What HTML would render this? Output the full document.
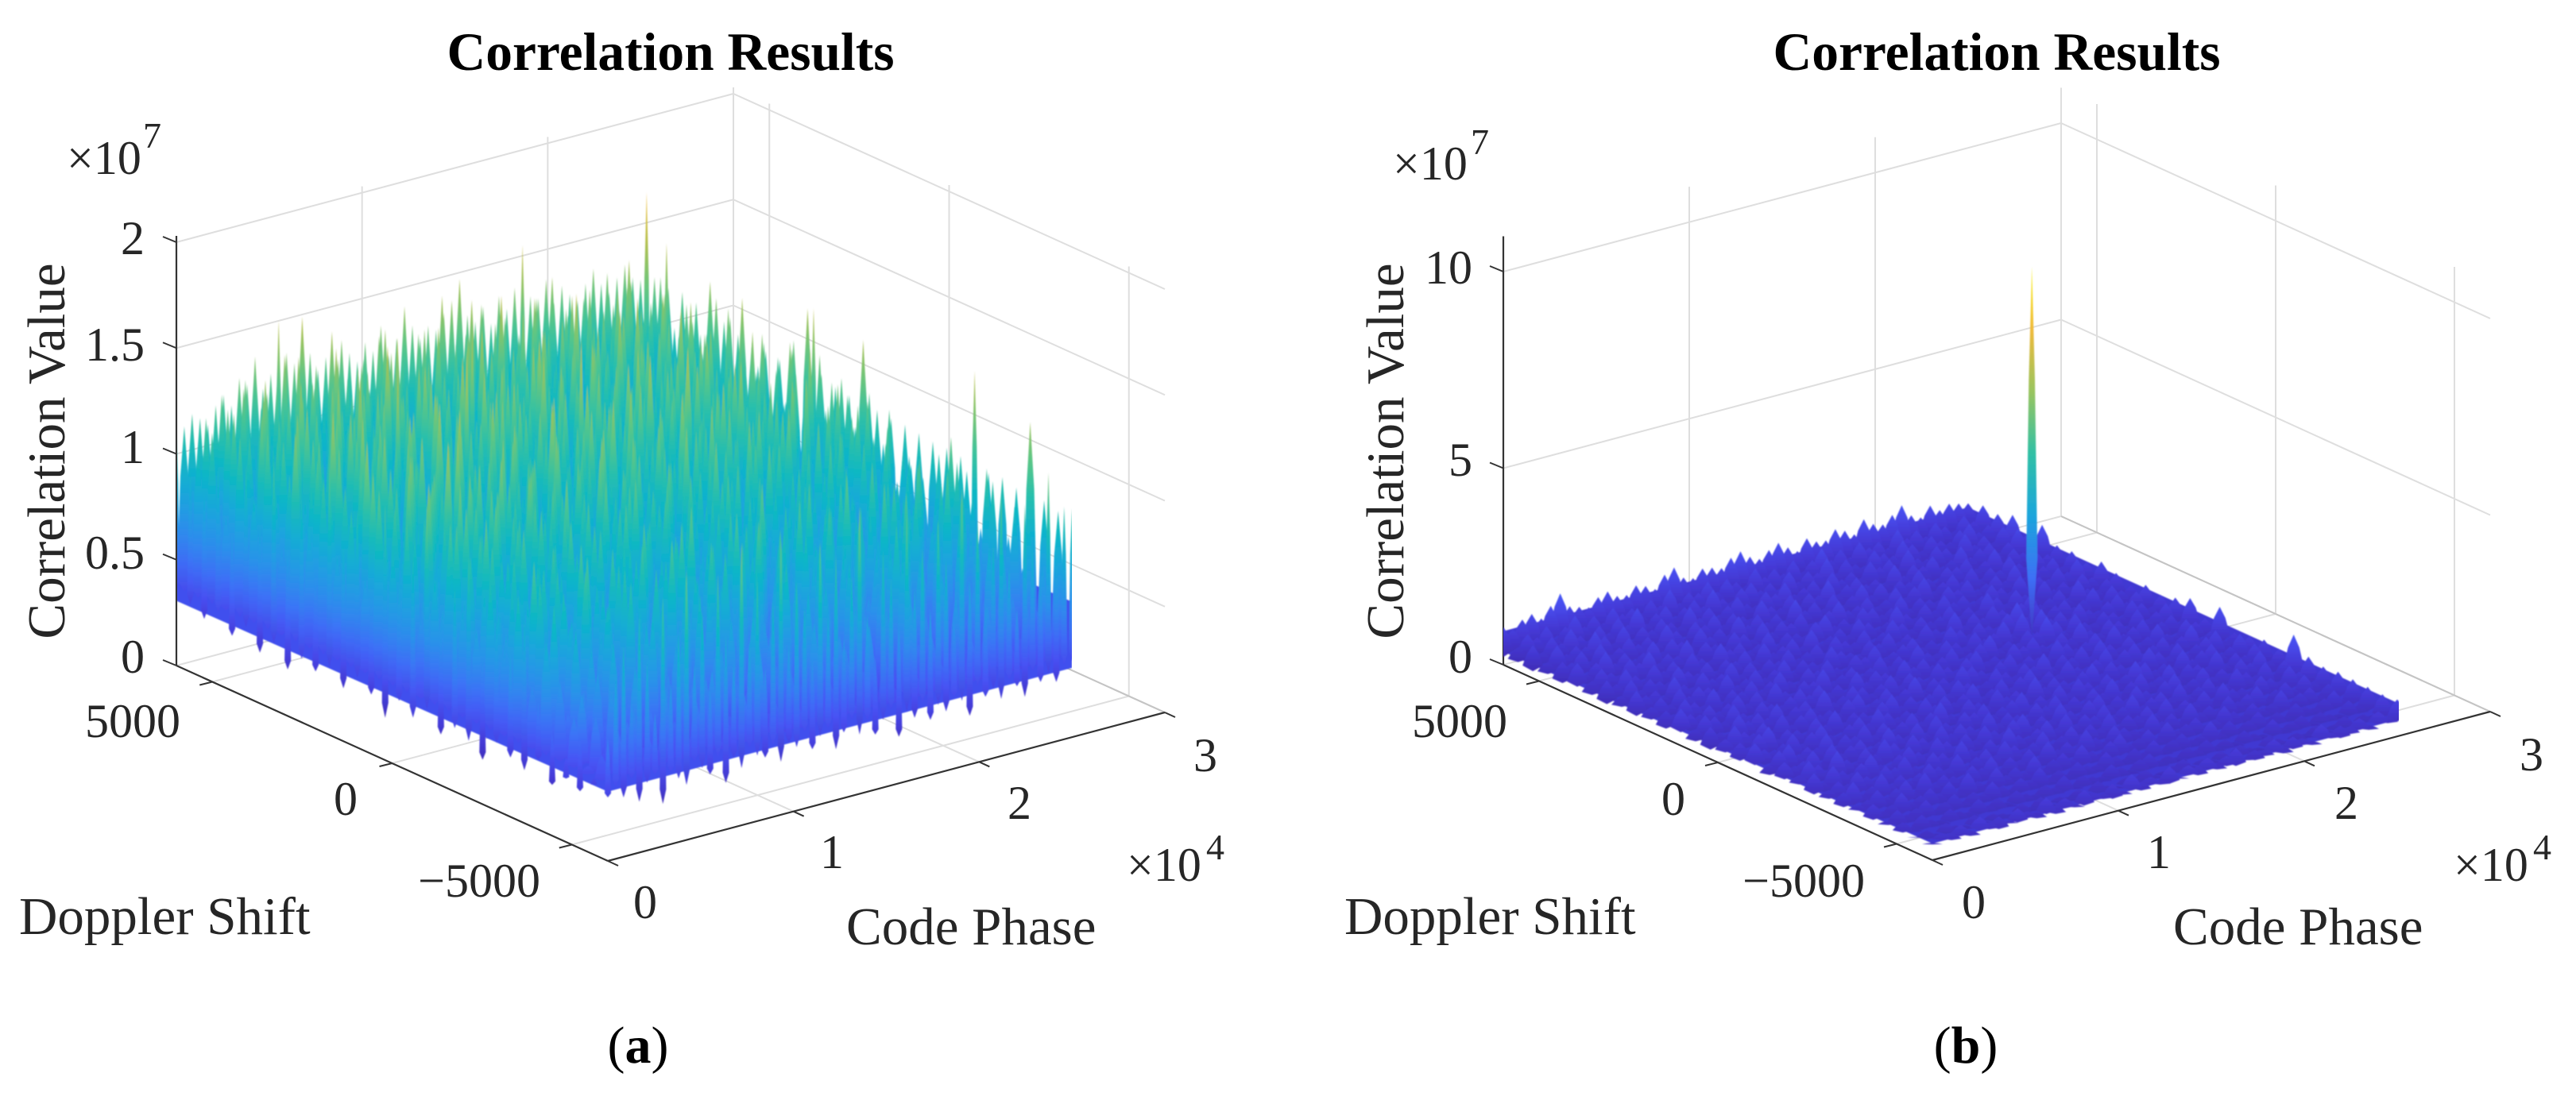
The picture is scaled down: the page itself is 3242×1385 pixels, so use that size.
<!DOCTYPE html>
<html lang="en">
<head>
<meta charset="utf-8">
<title>Correlation Results</title>
<style>
html,body{margin:0;padding:0;background:#fff;}
svg{display:block;}
text{font-family:"Liberation Serif",serif;fill:#262626;}
.tick{font-size:60px;}
.lab{font-size:67px;}
.ttl{font-size:67.5px;font-weight:bold;fill:#000;}
.sup{font-size:46px;}
.cap{font-size:66px;fill:#000;}
</style>
</head>
<body>
<svg id="figure" xmlns="http://www.w3.org/2000/svg" width="3242" height="1385" viewBox="0 0 3242 1385">
<defs id="defs">
<filter id="soft" x="-2%" y="-2%" width="104%" height="104%"><feGaussianBlur stdDeviation="0.8"/></filter>
<clipPath id="clipA"><rect x="223" y="100" width="1126" height="1000"/></clipPath>
<clipPath id="clipB"><rect x="1892" y="100" width="1127" height="1000"/></clipPath>
</defs>
<rect width="3242" height="1385" fill="#fff"/>
<g id="chartA"></g>
<g id="chartB"></g>

<text class="ttl" x="844" y="88" text-anchor="middle">Correlation Results</text>
<text class="lab" transform="translate(81,568) rotate(-90)" text-anchor="middle">Correlation Value</text>
<text class="tick" x="84" y="219">×10</text>
<text class="sup" x="180" y="186">7</text>
<text class="tick" x="182" y="320" text-anchor="end">2</text>
<text class="tick" x="182" y="454" text-anchor="end">1.5</text>
<text class="tick" x="182" y="583" text-anchor="end">1</text>
<text class="tick" x="182" y="716" text-anchor="end">0.5</text>
<text class="tick" x="182" y="847" text-anchor="end">0</text>
<text class="tick" x="227" y="928" text-anchor="end">5000</text>
<text class="tick" x="450" y="1026" text-anchor="end">0</text>
<text class="tick" x="680" y="1129" text-anchor="end">−5000</text>
<text class="tick" x="797" y="1156">0</text>
<text class="tick" x="1032" y="1093">1</text>
<text class="tick" x="1268" y="1031">2</text>
<text class="tick" x="1502" y="971">3</text>
<text class="tick" x="1418" y="1109">×10</text>
<text class="sup" x="1518" y="1082">4</text>
<text class="lab" x="24" y="1176">Doppler Shift</text>
<text class="lab" x="1065" y="1189">Code Phase</text>
<text class="cap" x="803" y="1338" text-anchor="middle">(<tspan font-weight="bold">a</tspan>)</text>

<text class="ttl" x="2513" y="88" text-anchor="middle">Correlation Results</text>
<text class="lab" transform="translate(1766,568) rotate(-90)" text-anchor="middle">Correlation Value</text>
<text class="tick" x="1753" y="226">×10</text>
<text class="sup" x="1851" y="194">7</text>
<text class="tick" x="1853" y="357" text-anchor="end">10</text>
<text class="tick" x="1853" y="599" text-anchor="end">5</text>
<text class="tick" x="1853" y="847" text-anchor="end">0</text>
<text class="tick" x="1897" y="928" text-anchor="end">5000</text>
<text class="tick" x="2121" y="1026" text-anchor="end">0</text>
<text class="tick" x="2347" y="1129" text-anchor="end">−5000</text>
<text class="tick" x="2469" y="1156">0</text>
<text class="tick" x="2702" y="1093">1</text>
<text class="tick" x="2938" y="1031">2</text>
<text class="tick" x="3171" y="970">3</text>
<text class="tick" x="3088" y="1109">×10</text>
<text class="sup" x="3188" y="1082">4</text>
<text class="lab" x="1692" y="1176">Doppler Shift</text>
<text class="lab" x="2735" y="1189">Code Phase</text>
<text class="cap" x="2474" y="1338" text-anchor="middle">(<tspan font-weight="bold">b</tspan>)</text>
</svg>

<script>
// Tick values shared by both plots
const codePhaseTicks = [0, 10000, 20000, 30000];
const dopplerTicks = [5000, 0, -5000];
const zTicksA = [0, 0.5, 1, 1.5, 2];
const zTicksB = [0, 5, 10];

// Correlation values, in units of 1e5 (rows: Doppler +6000 to -6000, columns: code phase 0 to 25000)
const correlationA = [
[108,112,117,114,110,118,122,116,128,124,136,120,126,150,134,128,149,131,122,127,118,133,126,121,129,124,135,120,127,141,131,124,129,126,133,138,147,129,125,131,122,134,127,136,155,130,128,136,124,131,126,122,129,135,127,122,128,133,126,124],
[96,104,118,92,127,109,85,131,101,116,78,124,138,96,112,88,129,105,143,97,119,83,126,108,135,91,114,122,76,131,104,89,146,117,99,125,81,137,110,94,128,102,119,86,133,107,141,93,121,84,127,111,98,136,105,118,129,90,169,128],
[88,115,73,124,101,132,94,109,127,82,118,105,140,90,123,71,113,134,99,86,128,116,79,142,103,121,92,110,137,84,119,97,126,75,145,108,88,131,114,96,123,80,138,101,117,92,129,106,83,135,112,98,125,78,144,109,120,95,132,126],
[102,79,126,97,113,84,138,105,91,123,116,75,131,108,95,144,86,120,103,129,77,112,135,94,118,82,127,100,141,89,115,72,133,106,122,93,148,85,119,104,130,76,124,110,97,139,87,121,101,128,114,81,136,92,117,126,103,152,111,127],
[74,119,107,88,135,99,122,78,114,130,93,110,83,126,119,97,137,75,108,124,91,146,104,85,116,131,96,123,79,112,138,87,105,128,94,117,73,142,100,125,89,111,134,82,120,98,127,115,76,140,106,91,129,113,84,133,99,121,107,125],
[110,93,131,76,117,104,89,142,97,125,81,136,102,116,72,129,94,111,148,85,123,100,134,78,119,107,92,127,115,83,144,98,120,76,131,109,90,124,136,86,113,101,149,79,126,95,118,104,133,88,122,110,75,138,97,116,130,87,105,138],
[85,127,98,121,82,110,134,91,106,119,140,76,124,99,87,132,116,79,127,103,92,139,112,84,125,97,108,150,81,120,94,130,113,77,126,102,141,88,115,93,128,107,82,135,118,96,123,74,144,101,112,87,129,108,92,126,119,78,134,122],
[118,76,109,137,95,123,80,114,128,88,103,146,92,117,131,83,108,125,96,72,136,104,121,87,143,110,79,118,102,133,90,125,71,139,107,119,95,83,131,116,101,127,89,112,145,78,106,124,93,130,85,117,102,140,75,123,96,111,128,119],
[81,133,92,104,126,71,118,99,135,110,84,122,107,78,151,95,128,114,86,133,109,77,124,98,116,138,91,105,129,74,122,112,147,84,101,127,93,118,76,136,108,89,125,103,81,132,116,97,121,86,143,104,92,128,113,79,137,99,117,118],
[105,90,122,78,143,108,93,127,76,116,131,98,119,88,124,105,72,139,101,117,92,155,83,111,128,95,74,134,106,121,87,113,99,136,80,126,109,142,91,104,129,75,118,95,137,110,84,123,107,72,126,97,134,89,119,102,145,83,111,117],
[72,117,103,130,88,98,141,84,125,94,109,77,136,113,97,122,85,118,131,75,106,124,92,137,78,115,129,88,110,147,96,123,82,104,119,71,133,100,126,85,114,139,93,107,122,80,128,96,116,134,74,120,108,88,131,98,113,126,91,116],
[126,84,115,96,121,74,112,135,103,87,128,118,82,100,143,79,111,94,126,108,83,119,137,101,72,127,92,116,104,81,132,90,156,108,75,123,97,115,138,86,120,102,77,130,94,118,105,83,139,112,91,124,71,117,106,135,88,122,100,128],
[93,108,74,139,101,86,123,97,116,72,134,91,125,106,84,130,117,76,99,142,113,88,125,94,109,131,80,103,120,96,72,138,115,89,127,104,82,122,99,144,78,112,126,90,105,133,76,119,98,124,87,110,142,95,72,121,104,129,85,146],
[112,79,128,107,83,118,94,131,78,110,121,89,104,147,92,119,72,127,103,86,133,98,116,75,122,141,90,108,124,78,113,97,130,84,119,101,136,72,110,93,125,107,148,81,116,96,122,88,134,103,75,127,112,85,99,137,81,118,150,118],
[77,124,95,113,89,136,101,75,125,115,91,138,80,112,98,123,108,84,130,72,118,105,93,144,86,111,99,127,135,82,104,119,74,140,96,113,87,123,105,78,131,95,117,84,128,110,72,139,99,115,121,91,106,78,126,101,117,132,93,115],
[121,98,83,132,76,109,126,89,143,96,73,118,128,85,106,137,93,115,78,124,101,89,129,107,76,120,113,84,98,142,91,125,108,72,116,132,88,102,127,75,119,98,85,136,107,93,122,79,114,130,87,104,125,72,141,92,110,86,123,114],
[86,114,106,75,127,92,117,104,80,129,111,96,74,133,120,87,101,126,94,110,137,76,103,118,92,84,134,106,78,117,125,100,86,129,94,110,141,83,97,122,108,76,128,113,91,119,74,105,126,96,133,82,114,100,88,127,95,119,103,143],
[103,72,135,90,112,84,130,98,118,76,124,104,88,116,79,128,99,72,120,113,85,126,96,78,135,102,88,115,131,73,108,94,122,83,113,98,126,75,136,90,103,117,81,95,128,72,111,124,86,102,137,79,97,116,130,84,108,75,122,113],
[130,94,78,118,100,123,74,109,93,127,85,113,97,131,72,108,121,88,104,78,115,95,131,84,110,122,76,127,93,105,85,119,72,134,105,91,114,82,118,99,74,129,104,86,114,97,130,78,119,91,72,126,108,85,118,96,123,78,101,112],
[76,107,121,84,96,113,87,126,71,104,116,92,122,78,110,94,129,84,112,99,72,123,106,86,118,91,74,113,100,124,79,107,92,116,76,128,95,108,84,113,122,90,72,119,101,83,111,95,124,77,106,116,89,127,74,110,93,121,86,112],
[98,85,109,72,125,92,103,80,117,95,74,122,101,86,115,103,76,120,93,107,88,113,74,125,97,82,110,118,72,99,120,86,104,76,113,90,119,72,102,88,125,97,79,108,92,116,82,104,72,121,94,86,113,100,78,118,89,105,97,111],
[114,79,95,116,83,107,72,120,90,101,88,109,74,118,92,82,113,97,72,105,119,84,98,108,74,116,94,81,112,102,75,110,91,120,84,97,74,115,87,106,72,93,114,80,99,74,122,87,109,93,74,101,84,115,90,72,106,96,81,110],
[72,103,88,78,112,96,84,105,74,113,98,72,107,84,96,115,78,90,103,74,94,110,82,72,100,88,104,76,92,71,108,83,97,72,111,78,102,90,72,100,85,110,73,92,104,78,88,100,71,97,107,76,90,72,103,85,99,72,108,110],
[90,76,101,70,94,82,108,71,96,78,88,103,72,90,68,100,85,107,69,92,78,98,70,105,84,72,91,102,74,86,96,69,89,104,73,82,95,70,99,76,92,66,103,84,71,94,80,68,96,87,72,104,78,93,69,84,100,74,91,109],
[78,104,66,118,88,72,110,94,62,120,84,98,70,114,90,64,106,122,76,96,60,112,86,124,70,100,92,66,116,82,108,74,126,62,94,112,80,68,120,90,104,72,116,64,98,86,122,74,110,66,102,92,118,70,96,84,124,76,106,152],
[96,64,112,80,58,104,90,70,118,62,100,76,110,56,92,116,68,84,106,60,122,78,94,58,108,88,72,120,66,98,114,58,86,104,74,118,62,96,80,110,56,124,84,70,102,90,60,114,76,98,120,64,88,108,72,116,60,100,82,107],
[60,88,104,54,92,74,116,58,84,98,66,112,52,90,76,108,62,120,80,56,100,70,114,58,94,82,110,64,118,56,86,102,72,52,106,90,62,116,76,96,58,112,68,88,120,54,100,78,110,60,92,74,118,56,104,84,66,114,78,108],
[48,72,56,94,64,84,50,102,60,76,110,52,88,68,96,46,80,106,58,72,92,50,112,66,84,54,100,74,60,116,48,90,70,56,104,80,50,96,66,110,58,82,46,94,72,118,54,86,62,100,76,52,108,68,90,58,112,48,84,106],
[40,58,68,46,76,52,88,44,62,72,50,96,42,66,80,46,58,100,52,70,42,84,60,48,92,56,72,40,104,50,64,78,44,88,54,40,96,60,70,46,82,52,108,42,68,90,48,62,76,44,98,56,70,42,86,60,48,102,72,140],
[52,38,60,42,70,36,54,78,40,56,34,66,48,84,38,52,64,36,76,44,58,34,88,46,40,62,72,36,50,92,38,56,44,68,34,80,48,60,36,74,42,96,34,54,66,40,84,36,58,46,72,34,90,50,38,64,44,100,56,106],
[36,46,34,56,38,64,32,48,42,70,34,52,40,60,32,72,38,46,34,58,42,78,32,50,36,62,44,32,82,40,52,34,66,38,46,74,32,56,42,34,88,44,36,60,48,32,76,38,54,42,68,34,92,46,36,64,40,80,50,104],
[58,86,100,72,112,90,64,118,76,98,128,82,106,68,122,92,78,134,86,114,72,102,130,80,108,96,70,124,88,116,76,104,136,84,62,112,98,74,126,90,108,78,120,100,70,132,86,114,74,102,124,88,68,116,96,80,128,92,110,108]
];
const frontEdgeTroughA = [30,34,28,36,24,32,35,20,34,30,26,36,32,28,35,22,33,27,36,31,29,34,25,33,30,36,27,32,35,24,31,36,28,34,26,32,36,22,33,29,35,26,32,28,34,31,23,36,30,33,27,35,31,25,36,30,33,28,35,36];
const leftEdgeTroughA = [36,32,28,34,26,33,24,31,22,30,27,32,25,33,28,20,31,26,33,24,30,27,21,32,28,25,33,24,30,27,33,30];

const correlationB = [
[96,84,102,110,92,118,143,104,96,88,108,116,98,94,112,104,90,120,132,100,92,110,106,98,118,128,108,96,112,124,106,90,116,102,98,120,110,94,126,108,100,118,136,104,92,116,98,108,102,96],
[62,88,74,96,58,82,104,70,90,66,98,76,84,60,92,72,106,64,86,78,100,68,94,80,62,102,74,88,70,96,60,84,108,72,92,66,98,78,86,64,104,76,90,68,96,80,62,94,74,108],
[84,60,92,70,100,76,56,88,64,96,72,108,62,82,94,58,78,90,68,104,74,60,88,96,70,82,56,98,66,86,76,106,62,90,72,58,94,80,68,100,84,60,92,74,64,88,98,70,82,103],
[58,94,66,80,72,104,86,62,98,54,84,70,92,76,60,102,68,88,56,80,96,72,62,90,78,100,64,74,86,58,94,70,82,60,96,76,88,52,100,72,64,90,78,56,102,68,84,62,94,118],
[76,68,90,56,96,62,74,92,70,82,60,100,78,52,88,74,94,62,84,70,58,98,76,66,92,54,84,72,104,60,80,92,68,74,56,98,64,86,76,94,58,72,100,66,82,90,54,78,106,88],
[90,54,78,100,64,84,58,72,94,62,88,74,56,96,68,82,60,100,72,92,66,80,54,104,70,84,62,92,56,76,98,64,88,58,82,72,96,68,52,84,78,92,60,74,98,56,86,70,62,127],
[62,86,70,58,92,76,98,60,80,68,102,54,84,72,60,90,78,58,96,64,86,74,92,60,56,80,98,68,74,88,58,70,94,62,84,100,56,76,88,64,92,54,80,68,96,72,60,84,76,92],
[80,64,96,74,54,88,66,84,56,92,72,62,98,76,86,58,70,94,54,80,72,60,88,100,66,76,58,92,84,62,72,96,54,78,68,60,88,74,92,58,70,84,64,98,52,82,76,90,62,94],
[56,92,60,82,70,62,94,76,64,86,54,80,70,90,58,96,66,76,88,62,98,56,70,82,60,94,78,54,66,100,74,58,86,64,96,72,82,56,68,90,76,60,94,54,78,66,88,72,98,84],
[88,70,76,54,98,72,58,90,68,74,96,60,84,54,78,68,90,60,72,84,56,92,74,64,88,52,70,96,80,58,84,66,72,92,54,76,62,100,82,58,88,70,54,92,64,76,60,84,68,102],
[64,82,58,92,66,84,76,54,96,60,72,88,62,76,94,56,82,70,60,96,78,68,54,86,72,92,62,76,58,88,70,54,100,60,84,66,90,74,56,78,94,62,72,86,54,98,70,60,82,90],
[72,56,88,74,60,96,52,80,70,90,58,76,94,64,54,84,72,92,66,56,86,74,96,58,68,80,90,60,72,54,94,78,62,84,70,58,88,110,66,92,56,76,84,60,72,96,52,88,70,76],
[94,74,66,84,58,76,90,62,86,54,96,68,56,82,74,98,60,72,84,54,70,92,62,80,54,96,70,62,88,76,58,90,66,74,98,56,106,980,104,72,84,60,92,70,58,78,90,64,84,94],
[58,88,78,60,96,68,54,84,72,62,78,92,70,88,60,76,54,96,64,86,74,58,94,70,84,62,76,92,54,68,84,100,58,72,60,86,76,108,90,54,96,68,60,82,74,56,92,78,62,86],
[82,62,54,94,72,86,66,96,58,76,84,54,98,62,72,90,80,58,76,92,60,84,68,54,90,74,58,84,96,62,70,54,88,76,92,66,56,84,64,98,72,58,86,76,54,92,60,74,88,96],
[68,96,74,64,84,54,92,60,78,90,66,72,56,86,94,54,68,88,60,74,98,54,82,76,62,94,86,70,56,80,92,60,74,64,56,96,80,62,72,88,54,94,66,78,90,58,72,82,56,112],
[76,54,86,98,60,78,70,54,88,64,94,58,76,70,52,84,96,62,78,56,72,90,60,88,74,54,66,92,76,60,86,72,98,54,82,68,90,58,94,76,62,84,56,70,96,64,54,88,76,78],
[92,70,60,72,90,58,82,94,62,56,76,88,66,96,80,60,72,54,92,68,84,62,76,96,56,70,88,60,82,94,54,76,62,90,68,58,74,96,60,80,90,54,72,86,62,76,98,56,68,124],
[54,84,94,58,74,66,96,52,80,70,92,60,84,56,74,90,62,78,98,60,54,86,72,56,92,68,76,54,98,66,84,70,56,80,94,62,86,72,54,66,96,78,60,88,54,72,84,94,62,76],
[78,60,68,88,52,92,62,76,84,54,66,96,72,62,88,54,94,70,56,84,76,92,58,72,82,96,54,74,60,88,62,92,76,58,84,54,70,98,88,60,72,56,94,64,80,90,58,70,96,84],
[62,92,76,54,98,70,56,86,64,96,80,54,88,74,60,92,66,84,72,54,94,60,80,68,54,86,72,92,62,76,54,84,66,96,52,76,90,60,70,94,56,82,74,62,96,54,78,66,88,92],
[84,54,90,72,60,78,94,62,54,74,88,68,56,92,76,54,82,60,90,72,62,86,94,54,76,60,96,70,54,84,92,58,76,62,88,70,54,82,94,56,68,90,60,74,54,86,70,94,62,86],
[58,74,62,86,68,54,82,72,92,60,52,84,76,60,94,66,56,78,54,96,70,56,74,88,62,92,56,78,68,90,54,72,96,60,76,84,62,92,54,72,86,60,54,92,76,62,88,52,80,139],
[70,90,52,66,92,58,76,54,68,86,72,60,90,54,70,84,62,92,74,56,68,90,52,66,84,58,76,60,92,52,74,66,84,54,90,56,74,62,84,52,92,70,66,54,84,72,58,90,68,100],
[54,62,80,56,72,86,50,92,58,74,64,54,78,66,88,50,74,60,82,52,88,62,74,54,92,66,50,84,72,60,54,88,62,76,50,90,60,70,54,82,62,74,88,50,66,78,54,84,60,92],
[74,50,60,84,54,64,76,56,80,50,90,62,50,84,58,72,54,88,50,66,76,54,84,60,50,74,86,54,62,78,50,84,56,66,76,50,58,86,66,50,74,54,60,88,52,68,76,50,72,96],
[48,70,52,62,76,46,58,72,48,64,54,78,60,46,68,56,82,50,62,46,70,54,50,76,58,46,66,50,74,46,62,72,50,54,84,48,72,46,60,76,50,62,46,72,56,48,64,78,50,94],
[62,44,68,50,42,64,52,44,70,48,58,42,66,52,44,60,48,72,42,58,50,44,68,54,42,62,70,46,52,42,60,48,66,44,54,42,64,50,42,74,46,54,64,42,60,48,42,70,52,92],
[42,52,38,58,46,40,60,38,50,44,36,56,42,60,36,48,42,54,38,62,44,36,52,46,58,38,42,50,60,36,46,40,54,36,58,44,38,62,48,36,50,42,56,38,46,60,36,52,44,90],
[44,62,56,70,50,78,58,66,48,74,60,52,82,56,68,46,76,62,54,72,48,84,58,64,50,78,44,68,60,74,52,66,80,48,62,56,76,50,70,60,46,82,54,66,58,72,48,76,56,94]
];
const frontEdgeTroughB = [40,44,38,42,36,44,40,34,42,38,44,36,40,34,42,38,36,44,40,34,38,42,36,44,38,34,40,42,36,44,38,40,34,42,36,40,44,34,38,42,36,44,40,34,38,42,36,44,40,38];
const leftEdgeTroughB = [20,24,18,28,22,30,26,20,30,24,32,26,34,28,24,34,30,36,28,34,38,30,36,32,40,34,38,36,40,40];

const surfaceCodeMax = 25000;
const SVGNS = 'http://www.w3.org/2000/svg';

const parulaStops = [[0,'#3e26a8'],[.07,'#4439d6'],[.13,'#4752f4'],[.2,'#3b74f6'],[.27,'#2a91ea'],[.35,'#1ba6dc'],[.42,'#09b6c8'],[.5,'#2cc0a8'],[.58,'#5bc686'],[.66,'#97c461'],[.75,'#c9bd3e'],[.83,'#f4ba3a'],[.9,'#fcd12e'],[1,'#f9fb15']];
function hexToRgb(h){return [parseInt(h.slice(1,3),16),parseInt(h.slice(3,5),16),parseInt(h.slice(5,7),16)];}
function parula(t){
  t = Math.max(0, Math.min(1, t));
  for (let i = 1; i < parulaStops.length; i++) {
    if (t <= parulaStops[i][0]) {
      const a = parulaStops[i-1], b = parulaStops[i];
      const f = (t - a[0]) / (b[0] - a[0]);
      const ca = hexToRgb(a[1]), cb = hexToRgb(b[1]);
      return 'rgb(' + ca.map((v, k) => Math.round(v + (cb[k] - v) * f)).join(',') + ')';
    }
  }
  return parulaStops[parulaStops.length-1][1];
}
function mean(list){return list.reduce((s, v) => s + v, 0) / list.length;}

const defs = document.getElementById('defs');
const gradCache = {};
function gradient(cfg, base, peak){
  const b = Math.round(base / 4) * 4, p = Math.round(peak / cfg.gradStep) * cfg.gradStep;
  const key = cfg.id + '_' + b + '_' + p;
  if (!gradCache[key]) {
    const g = document.createElementNS(SVGNS, 'linearGradient');
    g.setAttribute('id', key);
    g.setAttribute('x1', '0'); g.setAttribute('y1', '1');
    g.setAttribute('x2', '0'); g.setAttribute('y2', '0');
    for (let i = 0; i <= 6; i++) {
      const s = document.createElementNS(SVGNS, 'stop');
      s.setAttribute('offset', i / 6);
      s.setAttribute('stop-color', parula(cfg.colour(b + (p - b) * i / 6)));
      g.appendChild(s);
    }
    defs.appendChild(g);
    gradCache[key] = 'url(#' + key + ')';
  }
  return gradCache[key];
}

function drawPlot(cfg){
  const root = document.getElementById(cfg.id);
  const X = (cp, d) => cfg.ox + cp / 30000 * cfg.cpVec[0] + (6000 - d) / 12000 * cfg.dVec[0];
  const Y = (cp, d, z) => cfg.oy + cp / 30000 * cfg.cpVec[1] + (6000 - d) / 12000 * cfg.dVec[1] - z * cfg.zPx;
  function line(x1, y1, x2, y2, stroke, w, name){
    const l = document.createElementNS(SVGNS, 'line');
    l.setAttribute('x1', x1); l.setAttribute('y1', y1);
    l.setAttribute('x2', x2); l.setAttribute('y2', y2);
    l.setAttribute('stroke', stroke); l.setAttribute('stroke-width', w);
    
    
    root.appendChild(l);
  }
  const grid = '#dedede', ax = '#333';
  const top = cfg.zMax;
  // wall gridlines
  cfg.zTicks.forEach(z => {
    line(X(0,6000), Y(0,6000,z), X(30000,6000), Y(30000,6000,z), grid, 2, 'z-gridline-code-wall');
    line(X(30000,6000), Y(30000,6000,z), X(30000,-6000), Y(30000,-6000,z), grid, 2, 'z-gridline-doppler-wall');
  });
  codePhaseTicks.forEach(cp => {
    if (cp > 0) line(X(cp,6000), Y(cp,6000,0), X(cp,6000), Y(cp,6000,top), grid, 2, 'code-gridline-wall');
    if (cp > 0) line(X(cp,6000), Y(cp,6000,0), X(cp,-6000), Y(cp,-6000,0), grid, 2, 'code-gridline-floor');
  });
  dopplerTicks.forEach(d => {
    line(X(30000,d), Y(30000,d,0), X(30000,d), Y(30000,d,top), grid, 2, 'doppler-gridline-wall');
    line(X(0,d), Y(0,d,0), X(30000,d), Y(30000,d,0), grid, 2, 'doppler-gridline-floor');
  });
  line(X(30000,-6000), Y(30000,-6000,0), X(30000,6000), Y(30000,6000,0), '#c4c4c4', 2, 'floor-back-edge');
  // axes
  line(X(0,6000), Y(0,6000,0), X(0,6000), Y(0,6000,top), ax, 2.2, 'z-axis-line');
  line(X(0,6000), Y(0,6000,0), X(0,-6000), Y(0,-6000,0), ax, 2.2, 'doppler-axis-line');
  line(X(0,-6000), Y(0,-6000,0), X(30000,-6000), Y(30000,-6000,0), ax, 2.2, 'code-axis-line');
  // ticks
  cfg.zTicks.forEach(z => line(X(0,6000), Y(0,6000,z), X(0,6000)-17, Y(0,6000,z)-7, ax, 2, 'z-tick'));
  dopplerTicks.forEach(d => line(X(0,d), Y(0,d,0), X(0,d)-16, Y(0,d,0)+4, ax, 2, 'doppler-tick'));
  codePhaseTicks.forEach(cp => line(X(cp,-6000), Y(cp,-6000,0), X(cp,-6000)+13, Y(cp,-6000,0)+6, ax, 2, 'code-tick'));

  // surface: painter's order, back row first, far code phase first
  const clip = document.createElementNS(SVGNS, 'g');
  clip.setAttribute('clip-path', 'url(#' + cfg.clip + ')');
  
  
  const surf = document.createElementNS(SVGNS, 'g');
  surf.setAttribute('filter', 'url(#soft)');
  
  
  clip.appendChild(surf);
  root.appendChild(clip);

  // solid body of the surface, between the mean lower edge and a fraction of the mean back ridge
  const lowL = mean(cfg.leftTrough) / 100 + cfg.hullLift, lowF = mean(cfg.frontTrough) / 100 + cfg.hullLift;
  const ridge = mean(cfg.values[0]) / 100 * cfg.hullTop;
  const hullPts = [
    [0, 6000, lowL], [0, -6000, lowF], [surfaceCodeMax, -6000, lowF],
    [surfaceCodeMax, -6000, ridge], [surfaceCodeMax, 6000, ridge], [0, 6000, ridge]
  ].map(p => X(p[0], p[1]).toFixed(1) + ',' + Y(p[0], p[1], p[2]).toFixed(1)).join(' ');
  const hull = document.createElementNS(SVGNS, 'polygon');
  hull.setAttribute('points', hullPts);
  hull.setAttribute('fill', cfg.hullFill);
  
  
  surf.appendChild(hull);

  const nR = cfg.values.length;
  for (let r = 0; r < nR; r++) {
    const row = cfg.values[r], nC = row.length;
    const d = 6000 - 12000 * r / (nR - 1);
    for (let c = nC - 1; c >= 0; c--) {
      const cp = surfaceCodeMax * c / (nC - 1);
      const peak = row[c];
      let base = cfg.base;
      if (r === nR - 1 && cfg.frontTrough[c] !== undefined) base = cfg.frontTrough[c];
      else if (c === 0 && cfg.leftTrough[r] !== undefined) base = cfg.leftTrough[r];
      const lo = Math.min(base, peak);
      const x = X(cp, d);
      const yAt = z => (Y(cp, d, 0) - z / 100 * cfg.zPx).toFixed(1);
      const span = peak - lo;
      let hw = peak >= cfg.spikeAt ? cfg.spikeW : cfg.halfW;
      if (r === nR - 1 || c === 0) hw *= cfg.edgeNarrow;
      const pts = [
        [x, yAt(lo)],
        [x - hw, yAt(lo + span * cfg.shoulder)],
        [x - hw * cfg.upper, yAt(lo + span * 0.7)],
        [x, yAt(peak)],
        [x + hw * cfg.upper, yAt(lo + span * 0.7)],
        [x + hw, yAt(lo + span * cfg.shoulder)]
      ].map(p => (+p[0]).toFixed(1) + ',' + p[1]).join(' ');
      const el = document.createElementNS(SVGNS, 'polygon');
      el.setAttribute('points', pts);
      el.setAttribute('fill', gradient(cfg, lo, peak));
      
      
      surf.appendChild(el);
    }
  }
}

drawPlot({id:'chartA', clip:'clipA', values:correlationA, frontTrough:frontEdgeTroughA, leftTrough:leftEdgeTroughA,
  ox:222, oy:838, cpVec:[701,-187], dVec:[543,246], zPx:266.5, zMax:2.03, zTicks:zTicksA,
  base:34, halfW:9, spikeAt:150, spikeW:5, shoulder:0.07, upper:0.55, edgeNarrow:0.45, gradStep:5,
  hullLift:0.02, hullTop:0.5, hullFill:'#3f4fee',
  colour:v => (v / 100 - 0.15) / 1.85});
drawPlot({id:'chartB', clip:'clipB', values:correlationB, frontTrough:frontEdgeTroughB, leftTrough:leftEdgeTroughB,
  ox:1892, oy:837, cpVec:[702,-187], dVec:[540,246], zPx:49.5, zMax:10.9, zTicks:zTicksB,
  base:30, halfW:13, spikeAt:500, spikeW:7, shoulder:0.22, upper:0.55, edgeNarrow:1, gradStep:5,
  hullLift:0.03, hullTop:0.8, hullFill:'#4037d2',
  colour:v => v / 1000});
</script>
</body>
</html>
